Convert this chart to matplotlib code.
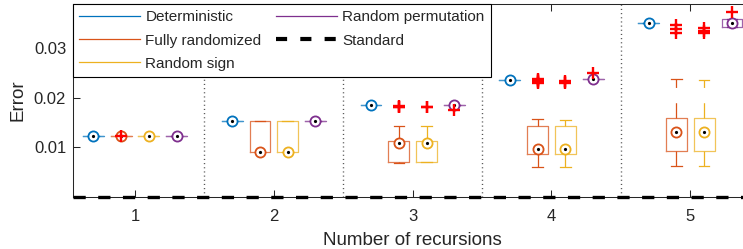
import matplotlib
matplotlib.use('Agg')
import matplotlib.pyplot as plt
from matplotlib.lines import Line2D

plt.rcParams['font.family'] = ['Liberation Sans', 'DejaVu Sans']
plt.rcParams['lines.scale_dashes'] = False

# ---------------- data ----------------
recursions = [1, 2, 3, 4, 5]
series_names = ['Deterministic', 'Fully randomized', 'Random sign', 'Random permutation']
series_colors = ['#0072BD', '#D95319', '#EDB120', '#7E2F8E']
series_offsets = [-0.3, -0.1, 0.1, 0.3]

# Deterministic (single value per recursion count)
det_med = [0.01229, 0.01527, 0.01846, 0.02365, 0.0352]

# Fully randomized
fr_med = [0.01229, 0.00905, 0.01075, 0.00953, 0.01298]
fr_q1 = [0.01229, 0.00905, 0.00690, 0.00858, 0.00919]
fr_q3 = [0.01229, 0.01527, 0.01122, 0.01426, 0.01582]
fr_lo = [0.01229, 0.00905, 0.00680, 0.00588, 0.00621]
fr_hi = [0.01229, 0.01527, 0.01426, 0.01574, 0.02386]
fr_out = [[0.01230], [], [0.01805, 0.01815, 0.01825],
          [0.02295, 0.02320, 0.02340, 0.02360, 0.02385],
          [0.03310, 0.03390, 0.03470]]

# Random sign
rs_med = [0.01229, 0.00905, 0.01075, 0.00953, 0.01298]
rs_q1 = [0.01229, 0.00905, 0.00690, 0.00858, 0.00919]
rs_q3 = [0.01229, 0.01527, 0.01122, 0.01426, 0.01582]
rs_lo = [0.01229, 0.00905, 0.00690, 0.00588, 0.00621]
rs_hi = [0.01229, 0.01527, 0.01426, 0.01554, 0.02365]
rs_out = [[], [], [0.01810, 0.01820], [0.02290, 0.02320, 0.02350],
          [0.03320, 0.03360, 0.03410]]

# Random permutation
rp_med = [0.01229, 0.01527, 0.01846, 0.02380, 0.03510]
rp_q1 = [0.01229, 0.01527, 0.01846, 0.02380, 0.03430]
rp_q3 = [0.01229, 0.01527, 0.01846, 0.02380, 0.03590]
rp_out = [[], [], [0.01750], [0.02495], [0.03740]]

# Standard method
standard_error = [0.0, 0.0, 0.0, 0.0, 0.0]

# ---------------- figure ----------------
W, H = 743, 249
fig = plt.figure(figsize=(W / 100, H / 100), dpi=100)
ax = fig.add_axes([72.5 / W, 52.5 / H, (752.8 - 72.5) / W, 192.5 / H])

axis_col = '#262626'


def stats_for(med, q1, q3, lo, hi, out):
    return [dict(med=m, q1=a, q3=b, whislo=l, whishi=h, fliers=f)
            for m, a, b, l, h, f in zip(med, q1, q3, lo, hi, out)]


all_stats = [
    stats_for(det_med, det_med, det_med, det_med, det_med, [[] for _ in det_med]),
    stats_for(fr_med, fr_q1, fr_q3, fr_lo, fr_hi, fr_out),
    stats_for(rs_med, rs_q1, rs_q3, rs_lo, rs_hi, rs_out),
    stats_for(rp_med, rp_q1, rp_q3, rp_q1, rp_q3, rp_out),
]

box_w = 0.15
for stats, col, off in zip(all_stats, series_colors, series_offsets):
    pos = [r + off for r in recursions]
    ax.bxp(stats, positions=pos, widths=box_w, capwidths=box_w / 2,
           showfliers=False, manage_ticks=False,
           boxprops=dict(color=col, lw=0.9, alpha=0.75),
           whiskerprops=dict(color=col, lw=0.9, linestyle=(0, (11, 11))),
           capprops=dict(color=col, lw=0.9),
           medianprops=dict(linestyle='none'), zorder=2)
    meds = [s['med'] for s in stats]
    ax.plot(pos, meds, 'o', ms=7.3, mfc='white', mec=col, mew=1.3,
            linestyle='none', zorder=4)
    ax.plot(pos, meds, 'o', ms=2.3, mfc='black', mec='black', mew=0,
            linestyle='none', zorder=5)
    fx, fy = [], []
    for p, s in zip(pos, stats):
        for v in s['fliers']:
            fx.append(p)
            fy.append(v)
    ax.plot(fx, fy, '+', color='red', ms=8, mew=1.7, linestyle='none', zorder=6)

# separators between groups
for r in recursions[:-1]:
    ax.axvline(r + 0.5, color='#555555', lw=1.0, linestyle=(0, (0.8, 2.2)), zorder=1)

# standard line
xlim = (recursions[0] - 0.45, recursions[-1] + 0.45)
ax.plot(xlim, [standard_error[0], standard_error[-1]], color='black', lw=2.4,
        linestyle=(0, (8.8, 9.0)), zorder=7, clip_on=False)

ax.set_xlim(*xlim)
ax.set_ylim(0, 0.039)
ax.set_xticks(recursions)
ax.set_xticklabels([str(r) for r in recursions])
ax.set_yticks([0.01, 0.02, 0.03])
ax.set_yticklabels(['0.01', '0.02', '0.03'])

for side in ['left', 'bottom', 'top']:
    ax.spines[side].set_color(axis_col)
    ax.spines[side].set_linewidth(0.75)
ax.spines['right'].set_visible(False)
ax.tick_params(axis='both', direction='in', length=5, width=0.75, color=axis_col,
               labelcolor=axis_col, labelsize=12)
ax.tick_params(axis='x', top=True, pad=9)
ax.tick_params(axis='y', pad=4.5)

ax.set_xlabel('Number of recursions', fontsize=13.5, color=axis_col, labelpad=6)
ax.set_ylabel('Error', fontsize=13.5, color=axis_col, labelpad=5)

# legend
handles = [Line2D([], [], color=c, lw=0.9) for c in series_colors]
handles.append(Line2D([], [], color='black', lw=3, linestyle=(0, (8, 9.5))))
labels = series_names + ['Standard']
leg = ax.legend(handles, labels,
                loc='upper left', bbox_to_anchor=(0, 1), borderaxespad=0,
                ncol=2, fontsize=11, handlelength=4.0, handletextpad=0.35,
                columnspacing=0.95, labelspacing=0.6, borderpad=0.42,
                fancybox=False, framealpha=1, edgecolor='black')
leg.get_frame().set_linewidth(0.8)
leg.set_zorder(10)
for t in leg.get_texts():
    t.set_color(axis_col)

fig.savefig('out.png', dpi=100)
